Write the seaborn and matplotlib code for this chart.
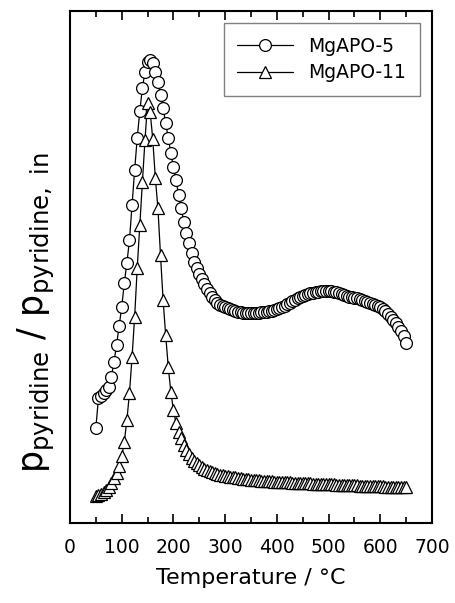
import matplotlib
matplotlib.use("Agg")
import matplotlib.pyplot as plt
import pandas as pd
import seaborn as sns
from matplotlib.ticker import MultipleLocator

# Desorption temperature grid (°C)
temperature = [
    50, 55, 60, 65, 70, 75, 80, 85, 90, 95,
    100, 105, 110, 115, 120, 125, 130, 135, 140, 145,
    150, 155, 160, 165, 170, 175, 180, 185, 190, 195,
    200, 205, 210, 215, 220, 225, 230, 235, 240, 245,
    250, 255, 260, 265, 270, 275, 280, 285, 290, 295,
    300, 305, 310, 315, 320, 325, 330, 335, 340, 345,
    350, 355, 360, 365, 370, 375, 380, 385, 390, 395,
    400, 405, 410, 415, 420, 425, 430, 435, 440, 445,
    450, 455, 460, 465, 470, 475, 480, 485, 490, 495,
    500, 505, 510, 515, 520, 525, 530, 535, 540, 545,
    550, 555, 560, 565, 570, 575, 580, 585, 590, 595,
    600, 605, 610, 615, 620, 625, 630, 635, 640, 645,
    650,
]

# Relative pyridine partial pressure (arbitrary units)
mgapo5 = [
    95, 125, 127, 130, 133, 136, 146, 161, 178, 197,
    216, 240, 260, 283, 318, 353, 385, 412, 435, 451,
    461, 463, 460, 451, 441, 428, 415, 400, 385, 370,
    356, 343, 328, 315, 301, 290, 280, 270, 261, 255,
    249, 244, 239, 234, 230, 226, 223, 220, 218, 217,
    216, 215, 214, 213, 212, 211, 211, 210, 210, 210,
    210, 210, 210, 210, 211, 211, 211, 212, 212, 213,
    214, 215, 216, 217, 219, 220, 222, 223, 225, 226,
    227, 228, 229, 230, 230, 231, 231, 232, 232, 232,
    232, 232, 231, 231, 230, 229, 228, 227, 226, 226,
    225, 225, 224, 223, 222, 221, 220, 219, 218, 217,
    216, 214, 212, 209, 206, 203, 200, 196, 192, 187,
    180,
]

mgapo11 = [
    27, 28, 29, 31, 33, 36, 40, 45, 50, 57,
    67, 81, 103, 130, 166, 206, 255, 298, 341, 383,
    420, 411, 384, 345, 315, 268, 223, 188, 156, 131,
    113, 100, 91, 85, 78, 73, 69, 65, 62, 60,
    58, 56, 54, 53, 52, 51, 50, 49, 48, 48,
    47, 47, 46, 46, 46, 45, 45, 44, 44, 44,
    43, 43, 43, 43, 42, 42, 42, 42, 42, 41,
    41, 41, 41, 41, 41, 41, 40, 40, 40, 40,
    40, 40, 40, 40, 39, 39, 39, 39, 39, 39,
    39, 39, 39, 38, 38, 38, 38, 38, 38, 38,
    38, 38, 37, 37, 37, 37, 37, 37, 37, 37,
    37, 37, 36, 36, 36, 36, 36, 36, 36, 36,
    36,
]

series_names = ["MgAPO-5", "MgAPO-11"]
series_markers = ["o", "^"]
series_sizes = [8.5, 9.0]

df = pd.DataFrame({"T": temperature, "MgAPO-5": mgapo5, "MgAPO-11": mgapo11})

sns.set_theme(style="ticks")
plt.rcParams["font.family"] = ["DejaVu Sans"]
plt.rcParams["text.color"] = "black"
plt.rcParams["axes.labelcolor"] = "black"
plt.rcParams["xtick.color"] = "black"
plt.rcParams["ytick.color"] = "black"
plt.rcParams["axes.edgecolor"] = "black"

W, H = 456, 603
fig = plt.figure(figsize=(W / 100, H / 100), dpi=100)
ax = fig.add_axes([70 / W, 1 - 523 / H, 362 / W, 512 / H])

for name, mk, ms in zip(series_names, series_markers, series_sizes):
    sns.lineplot(data=df, x="T", y=name, marker=mk, label=name, ax=ax,
                 legend=False, color="black", linewidth=0.9, markersize=ms,
                 markerfacecolor="white", markeredgecolor="black",
                 markeredgewidth=0.9)

ax.set_xlim(0, 700)
ax.set_ylim(0, 512)
ax.xaxis.set_major_locator(MultipleLocator(100))
ax.xaxis.set_minor_locator(MultipleLocator(50))
ax.set_yticks([])

for sp in ax.spines.values():
    sp.set_linewidth(1.5)
    sp.set_color("black")

ax.tick_params(axis="x", which="both", direction="in", top=True, bottom=True,
               width=1.2, color="black", labelcolor="black", labelsize=13.5,
               pad=11)
ax.tick_params(axis="x", which="major", length=6.5)
ax.tick_params(axis="x", which="minor", length=4.5)
ax.tick_params(axis="y", left=False, right=False, labelleft=False)

ax.set_xlabel("Temperature / °C", fontsize=16, labelpad=8)
ax.set_ylabel(r"$\mathregular{p_{pyridine}\ /\ p_{pyridine,\ in}}$", fontsize=25)
ax.yaxis.set_label_coords(-0.036, 0.412)

handles, labels = ax.get_legend_handles_labels()
leg = ax.legend(handles, labels, loc="upper right", fontsize=13.5,
                handlelength=3.0, handletextpad=0.8, borderpad=0.72,
                labelspacing=0.4, borderaxespad=0.65, fancybox=False,
                framealpha=1, edgecolor="#808080")
leg.get_frame().set_linewidth(1.0)

fig.savefig("out.png", dpi=100)
